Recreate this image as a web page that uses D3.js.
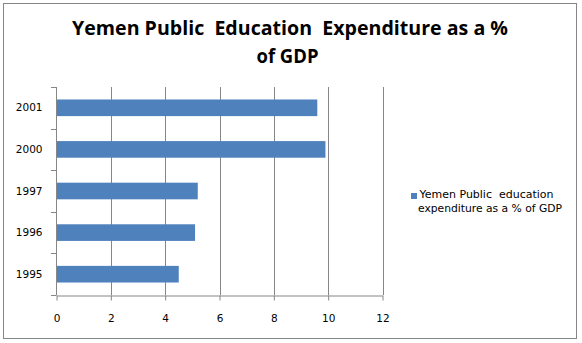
<!DOCTYPE html>
<html><head><meta charset="utf-8">
<script src="https://cdn.jsdelivr.net/npm/d3@7"></script>
<style>body{margin:0;background:#fff}svg{display:block}</style>
</head><body>
<script>
const categories = ["2001","2000","1997","1996","1995"];
const values = [9.6, 9.9, 5.2, 5.1, 4.5];
const xTicks = [0,2,4,6,8,10,12];
const titleLines = ["Yemen Public  Education  Expenditure as a %", "of GDP"];
const legendLines = ["Yemen Public  education", "expenditure as a % of GDP"];

const W = 582, H = 343;
const svg = d3.select("body").append("svg").attr("width", W).attr("height", H);
svg.append("rect").attr("width", W).attr("height", H).attr("fill", "#fff");
svg.append("rect").attr("x", 3.5).attr("y", 3.5).attr("width", 573).attr("height", 335)
  .attr("fill", "none").attr("stroke", "#868686").attr("stroke-width", 1);

const x = d3.scaleLinear().domain([0, 12]).range([56.5, 382.5]);
const y = d3.scaleBand().domain(categories).range([87, 295]).paddingInner(0.6).paddingOuter(0.3);

// gridlines
svg.append("g").selectAll("line").data(xTicks.slice(1)).join("line")
  .attr("x1", d => Math.round(x(d)) + 0.5).attr("x2", d => Math.round(x(d)) + 0.5)
  .attr("y1", 87).attr("y2", 295).attr("stroke", "#868686").attr("stroke-width", 1);

// bars
svg.append("g").selectAll("rect").data(categories).join("rect")
  .attr("x", x(0)).attr("y", d => y(d)).attr("height", y.bandwidth())
  .attr("width", (d, i) => x(values[i]) - x(0)).attr("fill", "#4F81BD");

// x axis
const xa = svg.append("g").attr("transform", "translate(0,295.5)")
  .call(d3.axisBottom(x).tickValues(xTicks).tickSize(5).tickPadding(14).tickSizeOuter(0));
xa.select(".domain").attr("stroke", "#868686");
xa.selectAll(".tick line").attr("stroke", "#868686");
xa.selectAll("text").attr("font-family", "DejaVu Sans").attr("font-size", "10.5px").attr("fill", "#000");

// y axis
const yTicksPos = d3.range(categories.length + 1).map(i => 87 + i * (208 / categories.length));
const ya = svg.append("g");
ya.append("line").attr("x1", 56.5).attr("x2", 56.5).attr("y1", 87).attr("y2", 295).attr("stroke", "#868686");
ya.selectAll("line.t").data(yTicksPos).join("line").attr("class", "t")
  .attr("x1", 51).attr("x2", 56.5).attr("y1", d => Math.round(d) + 0.5).attr("y2", d => Math.round(d) + 0.5)
  .attr("stroke", "#868686");
ya.selectAll("text").data(categories).join("text")
  .attr("x", 42.5).attr("y", d => y(d) + y.bandwidth() / 2).attr("dy", "0.35em")
  .attr("text-anchor", "end").attr("font-family", "DejaVu Sans").attr("font-size", "10.5px")
  .attr("fill", "#000").text(d => d);

// title
const tl = [{t: titleLines[0], y: 35, w: 436, cx: 290}, {t: titleLines[1], y: 63, w: 62, cx: 287.5}];
svg.append("g").selectAll("text").data(tl).join("text")
  .attr("x", d => d.cx).attr("y", d => d.y).attr("text-anchor", "middle")
  .attr("font-family", "Open Sans, Liberation Sans, sans-serif").attr("font-weight", "bold")
  .attr("font-size", "20px").attr("fill", "#000").style("white-space", "pre")
  .attr("textLength", d => d.w).attr("lengthAdjust", "spacingAndGlyphs").text(d => d.t);

// legend
svg.append("rect").attr("x", 411).attr("y", 193).attr("width", 6).attr("height", 6).attr("fill", "#4F81BD");
const ll = [{t: legendLines[0], x: 419.5, y: 198, w: 134}, {t: legendLines[1], x: 418, y: 212, w: 144}];
svg.append("g").selectAll("text").data(ll).join("text")
  .attr("x", d => d.x).attr("y", d => d.y).attr("font-family", "DejaVu Sans").attr("font-size", "10px")
  .attr("fill", "#000").style("white-space", "pre")
  .attr("textLength", d => d.w).attr("lengthAdjust", "spacingAndGlyphs").text(d => d.t);
</script>
</body></html>
